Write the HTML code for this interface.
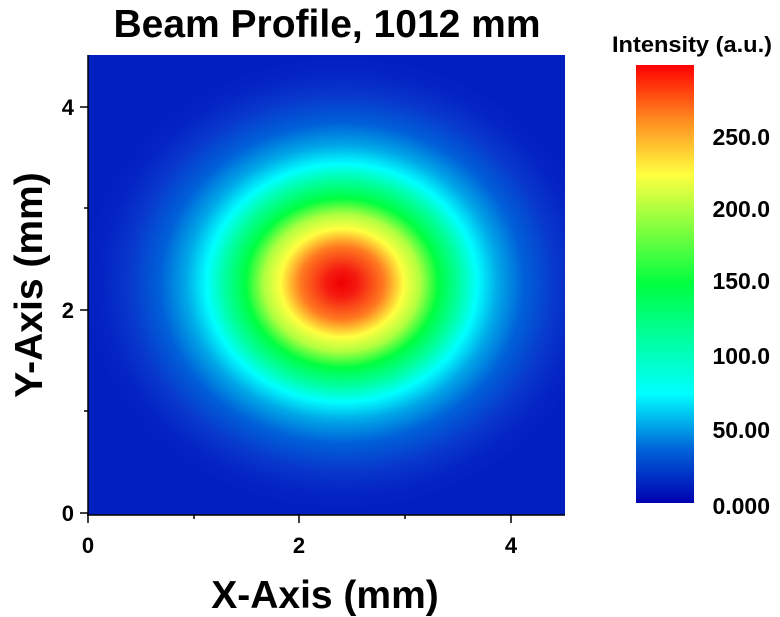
<!DOCTYPE html>
<html><head><style>
body{margin:0;background:#fff;}
svg{display:block;font-family:"Liberation Sans",Arial,sans-serif;font-weight:bold;}
</style></head><body>
<svg width="780" height="617" viewBox="0 0 780 617">
<defs>
<radialGradient id="beam" cx="342" cy="283" r="260" gradientUnits="userSpaceOnUse" gradientTransform="translate(342 283) scale(1 0.88) translate(-342 -283)">
<stop offset="0" stop-color="#f00000"/>
<stop offset="0.06" stop-color="#f51a10"/>
<stop offset="0.16" stop-color="#ff7a20"/>
<stop offset="0.237" stop-color="#ffff40"/>
<stop offset="0.3" stop-color="#b0ff40"/>
<stop offset="0.37" stop-color="#00ff40"/>
<stop offset="0.45" stop-color="#00ffa0"/>
<stop offset="0.52" stop-color="#00ffff"/>
<stop offset="0.6" stop-color="#00a8e8"/>
<stop offset="0.7" stop-color="#0060d8"/>
<stop offset="0.82" stop-color="#0838cc"/>
<stop offset="0.92" stop-color="#0424c4"/>
<stop offset="1" stop-color="#0220c0"/>
</radialGradient>
<linearGradient id="cb" x1="0" y1="1" x2="0" y2="0">
<stop offset="0" stop-color="#0000b0"/>
<stop offset="0.12" stop-color="#0060d8"/>
<stop offset="0.25" stop-color="#00ffff"/>
<stop offset="0.5" stop-color="#00ff40"/>
<stop offset="0.75" stop-color="#ffff40"/>
<stop offset="0.87" stop-color="#ff9020"/>
<stop offset="1" stop-color="#ff0000"/>
</linearGradient>
</defs>
<text x="327" y="37" font-size="39" text-anchor="middle">Beam Profile, 1012 mm</text>
<rect x="88" y="55" width="477" height="460" fill="#0220c0"/>
<rect x="88" y="55" width="477" height="460" fill="url(#beam)"/>
<g stroke="#000" stroke-width="1.5">
<line x1="88" y1="55" x2="88" y2="516"/>
<line x1="87" y1="515" x2="565" y2="515"/>
<line x1="88" y1="107" x2="80" y2="107"/><line x1="88" y1="310" x2="80" y2="310"/><line x1="88" y1="513" x2="80" y2="513"/>
<line x1="88" y1="208" x2="84" y2="208"/><line x1="88" y1="411" x2="84" y2="411"/>
<line x1="88" y1="515" x2="88" y2="523"/><line x1="299" y1="515" x2="299" y2="523"/><line x1="511" y1="515" x2="511" y2="523"/>
<line x1="194" y1="515" x2="194" y2="519"/><line x1="405" y1="515" x2="405" y2="519"/>
</g>
<g font-size="22" text-anchor="end">
<text x="74" y="115">4</text><text x="74" y="318">2</text><text x="74" y="521">0</text>
</g>
<g font-size="22" text-anchor="middle">
<text x="88" y="553">0</text><text x="299" y="553">2</text><text x="511" y="553">4</text>
</g>
<text x="325" y="608" font-size="39" text-anchor="middle">X-Axis (mm)</text>
<text transform="translate(42 285) rotate(-90)" font-size="39" text-anchor="middle">Y-Axis (mm)</text>
<text x="692" y="52" font-size="22" text-anchor="middle" textLength="160" lengthAdjust="spacingAndGlyphs">Intensity (a.u.)</text>
<rect x="636" y="65" width="58" height="438" fill="url(#cb)"/>
<g font-size="23" text-anchor="end">
<text x="770" y="145">250.0</text><text x="770" y="217">200.0</text><text x="770" y="289">150.0</text>
<text x="770" y="364">100.0</text><text x="770" y="438">50.00</text><text x="770" y="514">0.000</text>
</g>
</svg>
</body></html>
